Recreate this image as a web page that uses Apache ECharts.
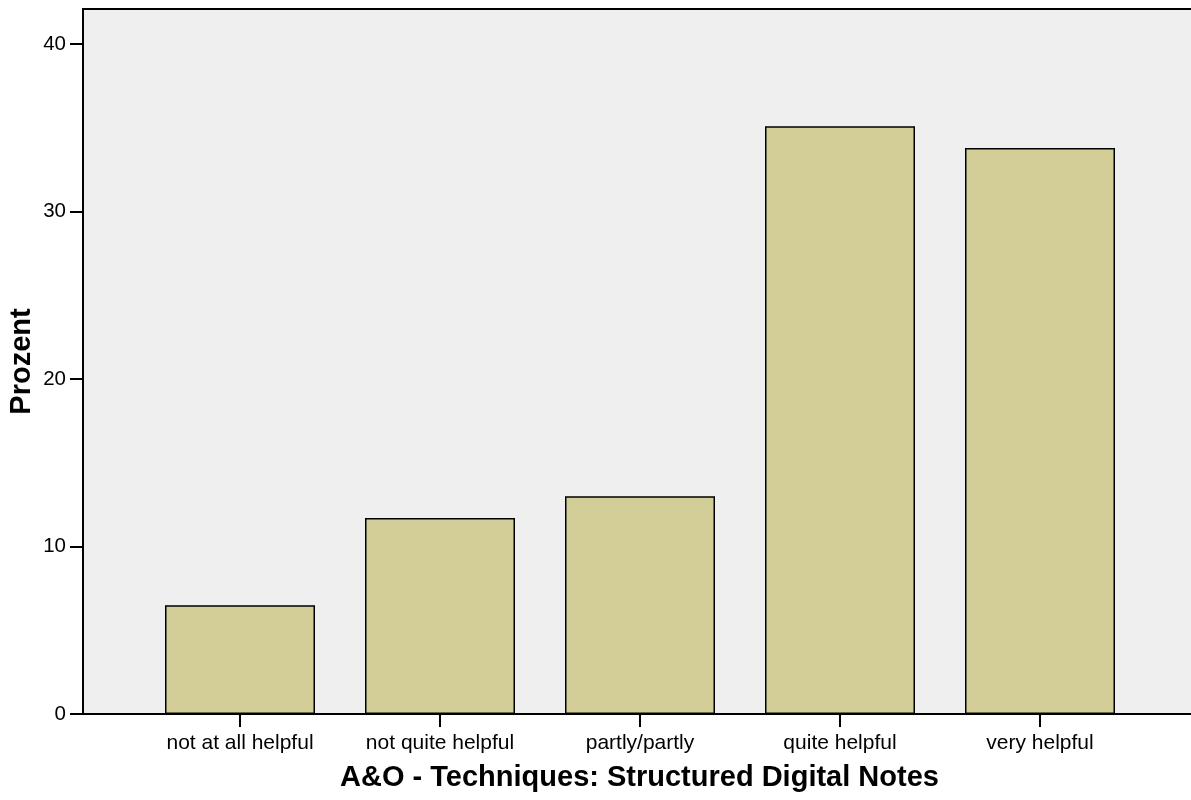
<!DOCTYPE html>
<html>
<head>
<meta charset="utf-8">
<script src="https://cdn.jsdelivr.net/npm/echarts@6/dist/echarts.min.js"></script>
<style>
html,body{margin:0;padding:0;background:#fff;}
#chart{width:1191px;height:800px;}
</style>
</head>
<body>
<div id="chart"></div>
<script>
var categories = ['not at all helpful', 'not quite helpful', 'partly/partly', 'quite helpful', 'very helpful'];
var percentValues = [6.5, 11.7, 13.0, 35.1, 33.8];
var yTickValues = [0, 10, 20, 30, 40];
var xAxisTitle = 'A&O - Techniques: Structured Digital Notes';
var yAxisTitle = 'Prozent';

var barData = percentValues.map(function (v, i) { return [i, v]; });
var catIdx = categories.map(function (c, i) { return i; });

var chart = echarts.init(document.getElementById('chart'), null, {renderer: 'canvas'});
chart.setOption({
  animation: false,
  backgroundColor: '#ffffff',
  textStyle: {fontFamily: '"Liberation Sans", Arial, sans-serif'},
  grid: {
    left: 83, right: -5, top: 9, bottom: 86,
    outerBoundsMode: 'none', containLabel: false,
    show: true, backgroundColor: '#efefef',
    borderColor: '#000', borderWidth: 2
  },
  xAxis: {
    type: 'value',
    min: -0.785, max: 4.78,
    splitLine: {show: false},
    axisLine: {show: true, onZero: false, lineStyle: {color: '#000', width: 2}},
    axisTick: {show: true, customValues: catIdx, length: 13, lineStyle: {color: '#000', width: 2}},
    axisLabel: {
      customValues: catIdx, margin: 19, fontSize: 21, color: '#000',
      fontFamily: '"Liberation Sans", Arial, sans-serif',
      formatter: function (v) { return categories[Math.round(v)] || ''; }
    },
    name: xAxisTitle, nameLocation: 'middle', nameGap: 49,
    nameTextStyle: {fontSize: 29, fontWeight: 'bold', color: '#000', fontFamily: '"Liberation Sans", Arial, sans-serif'}
  },
  yAxis: {
    type: 'value',
    min: 0, max: 42.1,
    splitLine: {show: false},
    axisLine: {show: true, onZero: false, lineStyle: {color: '#000', width: 2}},
    axisTick: {show: true, customValues: yTickValues, length: 13, lineStyle: {color: '#000', width: 2}},
    axisLabel: {customValues: yTickValues, margin: 17, fontSize: 20.5, color: '#000',
      fontFamily: '"Liberation Sans", Arial, sans-serif'},
    name: yAxisTitle, nameLocation: 'middle', nameGap: 47, nameRotate: 90,
    nameMoveOverlap: false,
    nameTextStyle: {fontSize: 29, fontWeight: 'bold', color: '#000', fontFamily: '"Liberation Sans", Arial, sans-serif'}
  },
  series: [{
    type: 'bar',
    data: barData,
    barWidth: 150,
    itemStyle: {color: '#d3ce98', borderColor: '#000', borderWidth: 1.5}
  }]
});
</script>
</body>
</html>
